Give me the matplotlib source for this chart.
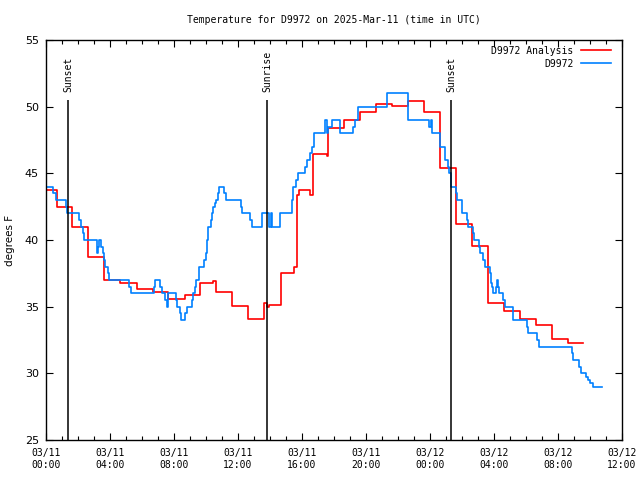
import matplotlib
matplotlib.use("Agg")
import matplotlib.pyplot as plt
import matplotlib.dates as mdates
import pandas as pd

# hours after 2025-03-11 00:00 UTC, temperature in F (step data)
obs_hours = [0.0, 0.46, 0.6, 1.23, 1.33, 2.08, 2.17, 2.33, 2.4, 3.17, 3.23, 3.29,
             3.44, 3.58, 3.65, 3.71, 3.9, 3.96, 5.21, 5.31, 6.73, 6.81, 7.13, 7.23,
             7.44, 7.54, 7.65, 8.1, 8.17, 8.38, 8.44, 8.69, 8.79, 9.15, 9.21, 9.31,
             9.38, 9.58, 9.9, 9.98, 10.05, 10.15, 10.31, 10.4, 10.46, 10.54, 10.6,
             10.73, 10.81, 11.15, 11.23, 12.17, 12.23, 12.75, 12.85, 13.48, 13.96,
             14.04, 14.1, 14.63, 15.4, 15.46, 15.6, 15.73, 16.18, 16.29, 16.5, 16.6,
             16.77, 17.44, 17.54, 17.65, 17.85, 18.4, 19.2, 19.3, 19.52, 21.29,
             22.65, 23.96, 24.05, 24.13, 24.63, 24.96, 25.1, 25.2, 25.29, 25.63,
             25.71, 26.0, 26.29, 26.35, 26.67, 26.75, 27.08, 27.13, 27.33, 27.44,
             27.75, 27.8, 27.85, 27.96, 28.1, 28.17, 28.23, 28.33, 28.58, 28.69,
             29.17, 29.21, 30.04, 30.1, 30.71, 30.79, 32.85, 32.96, 33.33, 33.42,
             33.73, 33.9, 34.0, 34.17, 34.73]
obs_temps = [44, 43.5, 43, 42.5, 42, 41.5, 41, 40.5, 40, 39, 39.5, 40,
             39.5, 39, 38.5, 38, 37.5, 37, 36.5, 36, 36.5, 37, 36.5, 36,
             35.5, 35, 36, 35.5, 35, 34.5, 34, 34.5, 35, 35.5, 36, 36.5,
             37, 38, 38.5, 39, 40, 41, 41.5, 42, 42.5, 42.75, 43,
             43.5, 44, 43.5, 43, 42.5, 42, 41.5, 41, 42, 41,
             42, 41, 42, 43, 44, 44.5, 45, 45.5, 46, 46.5, 47,
             48, 49, 48, 48.5, 49, 48, 48.5, 49, 50, 51,
             49, 48.5, 49, 48, 47, 46, 45.5, 45, 44, 43.5,
             43, 42, 41.5, 41, 40.5, 40, 39.5, 39, 38.5, 38,
             37.5, 36.75, 36.5, 36, 36.5, 37, 36.5, 36, 35.5, 35,
             34.5, 34, 33.5, 33, 32.5, 32, 31.5, 31, 30.5, 30,
             29.75, 29.5, 29.25, 29, 29]

ana_hours = [0.0, 0.67, 1.65, 2.65, 3.63, 4.63, 5.67, 6.67, 7.65, 8.67, 9.6,
             10.45, 10.65, 11.65, 12.65, 13.65, 13.8, 13.95, 14.67, 15.5, 15.67,
             15.8, 16.5, 16.67, 17.55, 17.65, 18.6, 19.6, 20.65, 21.65, 22.65,
             23.6, 24.6, 25.6, 26.6, 27.6, 28.6, 29.6, 30.6, 31.6, 32.6, 33.58]
ana_temps = [43.75, 42.45, 40.95, 38.7, 37.0, 36.75, 36.3, 36.1, 35.6, 35.9, 36.75,
             36.9, 36.1, 35.05, 34.1, 35.25, 35.0, 35.1, 37.55, 37.95, 43.4,
             43.75, 43.4, 46.45, 46.3, 48.4, 49.0, 49.6, 50.2, 50.05, 50.4,
             49.6, 45.4, 41.2, 39.55, 35.25, 34.7, 34.1, 33.6, 32.55, 32.25, 32.25]

sun_hours = [1.375, 13.83, 25.31]
sun_labels = ["Sunset", "Sunrise", "Sunset"]

base = pd.Timestamp("2025-03-11 00:00")
obs_t = base + pd.to_timedelta(obs_hours, unit="h")
ana_t = base + pd.to_timedelta(ana_hours, unit="h")
sun_t = base + pd.to_timedelta(sun_hours, unit="h")

mono = "DejaVu Sans Mono"

fig = plt.figure(figsize=(6.4, 4.8), dpi=100)
ax = fig.add_axes([46 / 640, 40 / 480, 576 / 640, 400 / 480])

ax.plot(ana_t, ana_temps, drawstyle="steps-post", color="#ff0000", lw=1.2,
        label="D9972 Analysis")
ax.plot(obs_t, obs_temps, drawstyle="steps-post", color="#0080ff", lw=1.2,
        label="D9972")

for t, lab in zip(sun_t, sun_labels):
    ax.vlines(t, 25, 50.5, color="black", lw=1.1)
    ax.text(t, 51.1, lab, rotation=90, ha="center", va="bottom",
            family=mono, fontsize=7)

ax.set_xlim(base, base + pd.Timedelta(hours=36))
ax.set_ylim(25, 55)
ax.set_yticks(range(25, 56, 5))
ax.xaxis.set_major_locator(mdates.HourLocator(byhour=range(0, 24, 4)))
ax.xaxis.set_minor_locator(mdates.HourLocator())
ax.xaxis.set_major_formatter(mdates.DateFormatter("%m/%d\n%H:%M"))

ax.tick_params(which="both", direction="in", top=True, right=True, width=0.8)
ax.tick_params(which="major", length=5)
ax.tick_params(which="minor", length=3)
ax.tick_params(axis="x", labelsize=7, pad=6)
ax.tick_params(axis="y", labelsize=8, pad=5)
for lab in ax.get_xticklabels():
    lab.set_family(mono)
for sp in ax.spines.values():
    sp.set_linewidth(1.0)

ax.set_title("Temperature for D9972 on 2025-Mar-11 (time in UTC)",
             family=mono, fontsize=7, pad=12)
ax.set_ylabel("degrees F", fontsize=7.5)
ax.yaxis.set_label_coords(-31 / 576, 0.5)

leg = ax.legend(loc="upper right", bbox_to_anchor=(0.992, 1.003), frameon=False,
                markerfirst=False, handlelength=3.0, handletextpad=0.8,
                labelspacing=0.3, borderpad=0.2, prop={"family": mono, "size": 7})

fig.savefig("out.png", dpi=100)
